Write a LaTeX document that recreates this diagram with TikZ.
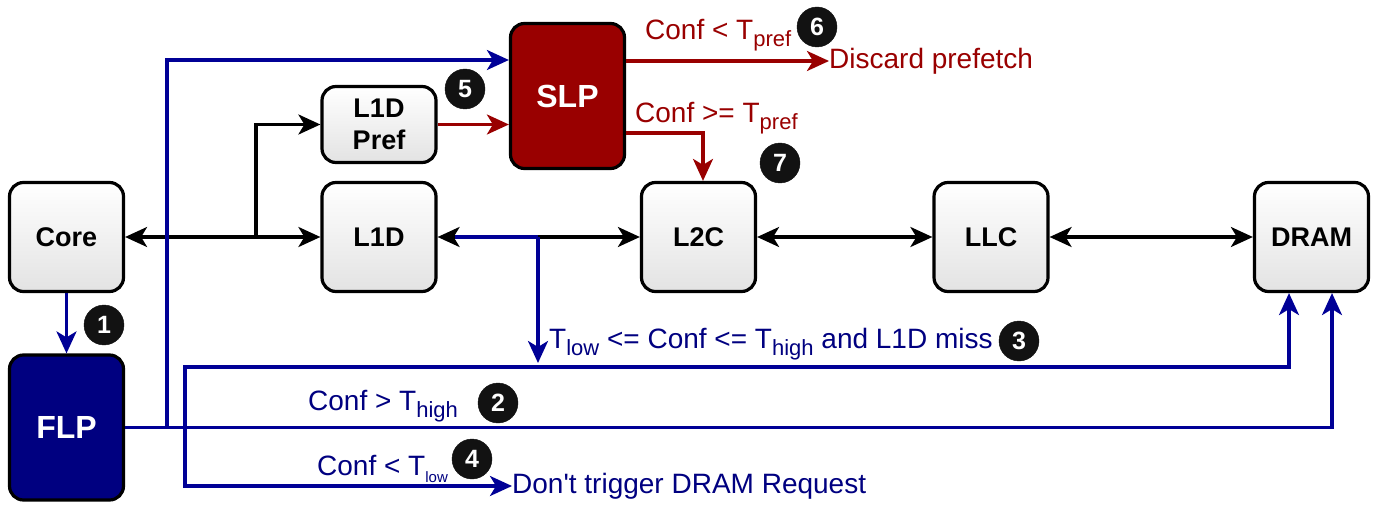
\documentclass[tikz,border=0pt]{standalone}
\usepackage{fontspec}
\setmainfont{Liberation Sans}
\usetikzlibrary{arrows.meta,positioning,calc}
\definecolor{flpblue}{RGB}{0,0,128}
\definecolor{lineblue}{RGB}{0,0,150}
\definecolor{slpred}{RGB}{153,0,0}
\newcommand{\sub}[2][22]{\raisebox{-7pt}{\fontsize{#1}{#1}\selectfont #2}}

\begin{document}
\begin{tikzpicture}[x=1pt,y=-1pt,>={Stealth[length=22pt,width=20pt,inset=6pt]}]
  \tikzstyle{box}=[rectangle, draw, line width=3.2pt, rounded corners=14pt, minimum width=114pt, align=center]
  \tikzstyle{cache}=[box, top color=white, bottom color=black!11, minimum height=109pt, font=\fontsize{27}{32}\selectfont\bfseries]
  \tikzstyle{pred}=[box, minimum height=145pt, text=white, font=\fontsize{32}{36}\selectfont\bfseries]
  \tikzstyle{badge}=[circle, fill=black!93, draw=black!93, minimum size=40pt, inner sep=0pt, text=white, font=\fontsize{25}{25}\selectfont\bfseries]
  \tikzstyle{blk}=[line width=3.2pt, black]
  \tikzstyle{blu}=[line width=3.2pt, lineblue]
  \tikzstyle{rd}=[line width=3.2pt, slpred]
  \tikzstyle{bluetext}=[anchor=base west, inner sep=0pt, text=flpblue, font=\fontsize{28}{30}\selectfont]
  \tikzstyle{redtext}=[bluetext, text=slpred]
  \useasboundingbox (0,0) rectangle (1382,508);

  % Memory hierarchy
  \node[cache] (Core) at (66.5,237) {Core};
  \node[cache] (L1D) at (379,237) {L1D};
  \node[cache] (L2C) at (698.5,237) {L2C};
  \node[cache] (LLC) at (991,237) {LLC};
  \node[cache] (DRAM) at (1311.5,237) {DRAM};
  \node[cache, minimum height=76pt] (Pref) at (379,124.5) {L1D\\Pref};

  % Predictors
  \node[pred, fill=flpblue] (FLP) at (66.5,427.5) {FLP};
  \node[pred, fill=slpred] (SLP) at (567.5,96) {SLP};

  % Outcomes and conditions
  \node[redtext, anchor=west] (discard) at (829,61) {Discard prefetch};
  \node[bluetext, anchor=west] (dont) at (512,486) {Don\textquotesingle t trigger DRAM Request};
  \node[bluetext] (l2) at (308,410) {Conf > T\sub{high}};
  \node[bluetext] (l3) at (549,348) {T\sub{low} <= Conf <= T\sub{high} and L1D miss};
  \node[bluetext] (l4) at (317,475) {Conf < T\sub[15]{low}};
  \node[redtext] (l6) at (645,40) {Conf < T\sub{pref}};
  \node[redtext] (l7) at (635,123) {Conf >= T\sub{pref}};

  % Step numbers
  \node[badge] (b1) at (104,325) {1};
  \node[badge] (b2) at (498,403) {2};
  \node[badge] (b3) at (1019,341) {3};
  \node[badge] (b4) at (472,459) {4};
  \node[badge] (b5) at (465,89) {5};
  \node[badge] (b6) at (817,27) {6};
  \node[badge] (b7) at (780,163) {7};

  \coordinate (fup) at (167,427.5);
  \coordinate (fork) at (185,427.5);
  \coordinate (hi) at (185,367);
  \coordinate (br) at (256,237);
  \coordinate (split) at (538,237);
  \coordinate (miss) at (538,363);

  % Data path
  \draw[blk,<->] (Core) -- (L1D);
  \draw[blk,->] (br) |- (Pref);
  \draw[blk,<->] (L1D) -- (L2C);
  \draw[blk,<->] (L2C) -- (LLC);
  \draw[blk,<->] (LLC) -- (DRAM);

  % SLP
  \draw[rd,->] (Pref) -- (SLP.west |- Pref);
  \draw[rd,->] (SLP.east |- discard.west) -- (discard.west);
  \draw[rd,->] ([yshift=-37pt]SLP.east) -| ([xshift=4.5pt]L2C.north);

  % FLP
  \draw[blu,->] (Core) -- (FLP);
  \draw[blu,->] (FLP.east) -| ([xshift=20.5pt]DRAM.south);
  \draw[blu,->] (fup) |- ([yshift=36pt]SLP.west);
  \draw[blu,->] (fork) -- (hi) -| ([xshift=-22.5pt]DRAM.south);
  \draw[blu,->] (fork) |- (dont.west);
  \draw[blu] (split) -- ([xshift=17pt]L1D.east);
  \draw[blu,->] (split) -- (miss);
\end{tikzpicture}
\end{document}
